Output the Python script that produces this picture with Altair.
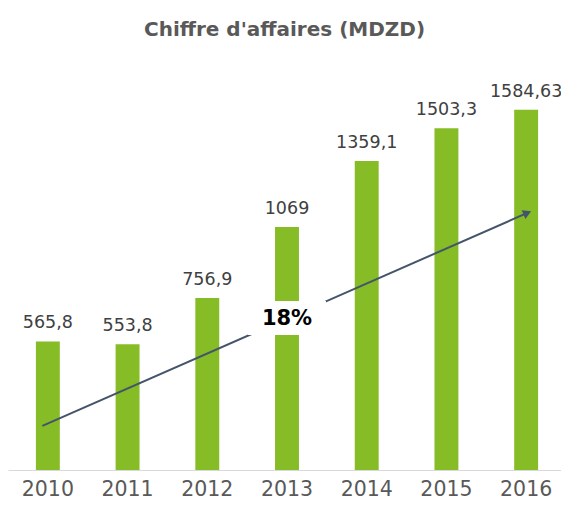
import altair as alt
import pandas as pd

years = ["2010", "2011", "2012", "2013", "2014", "2015", "2016"]
values = [565.8, 553.8, 756.9, 1069, 1359.1, 1503.3, 1584.63]
labels = ["565,8", "553,8", "756,9", "1069", "1359,1", "1503,3", "1584,63"]

# trend arrow: position in bar-index units (0 = 2010 ... 6 = 2016) and value
arrow_x = [-0.125, 6.07]
arrow_v = [194, 1131]
growth_label = "18%"
growth_label_x, growth_label_value = 3, 665   # bar index of 2013
growth_box_low, growth_box_high = 594, 744

GREEN = "#86BC25"
ARROW = "#44546A"
FONT = "DejaVu Sans"
XRANGE = [0, 558]

df = pd.DataFrame({"year": years, "value": values, "label": labels})
arrow_df = pd.DataFrame({"x0": [arrow_x[0]], "v0": [arrow_v[0]],
                         "x1": [arrow_x[1]], "v1": [arrow_v[1]]})
lab_df = pd.DataFrame({"x": [growth_label_x], "value": [growth_label_value],
                       "lo": [growth_box_low], "hi": [growth_box_high], "text": [growth_label]})

xscale = alt.Scale(domain=years, paddingInner=0.70, paddingOuter=0.35, range=XRANGE)
yscale = alt.Scale(domain=[0, 1760], nice=False, zero=True)
qscale = alt.Scale(domain=[-0.5, 6.5], range=XRANGE, nice=False, zero=False)

bars = alt.Chart(df).mark_bar(color=GREEN).encode(
    x=alt.X("year:N", scale=xscale, sort=years,
            axis=alt.Axis(title=None, labelAngle=0, ticks=False, labelFontSize=20.5,
                          labelColor="#595959", labelFont=FONT, labelPadding=9,
                          domainColor="#D9D9D9", domainWidth=1)),
    y=alt.Y("value:Q", scale=yscale, axis=None),
)
texts = alt.Chart(df).mark_text(dy=-9, baseline="bottom", fontSize=17.5, font=FONT,
                                color="#404040").encode(
    x=alt.X("year:N", scale=xscale, sort=years),
    y=alt.Y("value:Q", scale=yscale),
    text="label:N",
)

rule = alt.Chart(arrow_df).mark_rule(color=ARROW, strokeWidth=2).encode(
    x=alt.X("x0:Q", scale=qscale, axis=None),
    x2="x1:Q",
    y=alt.Y("v0:Q", scale=yscale),
    y2="v1:Q",
)
head = alt.Chart(arrow_df).mark_point(shape="triangle-up", filled=True, opacity=1,
                                      color=ARROW, size=90, angle=66.8).encode(
    x=alt.X("x1:Q", scale=qscale, axis=None),
    y=alt.Y("v1:Q", scale=yscale),
)
box = alt.Chart(lab_df).mark_bar(color="white", width=78).encode(
    x=alt.X("x:Q", scale=qscale, axis=None),
    y=alt.Y("lo:Q", scale=yscale),
    y2="hi:Q",
)
gtext = alt.Chart(lab_df).mark_text(fontSize=21, fontWeight="bold", font=FONT, color="black",
                                    baseline="middle").encode(
    x=alt.X("x:Q", scale=qscale, axis=None),
    y=alt.Y("value:Q", scale=yscale),
    text="text:N",
)

main_layer = alt.layer(bars, texts)
overlay = alt.layer(rule, head, box, gtext)

chart = alt.layer(main_layer, overlay).resolve_scale(x="independent").properties(
    width=553, height=400,
    autosize=alt.AutoSizeParams(type="none"),
    padding={"left": 0, "top": 62, "right": 0, "bottom": 32},
    title=alt.TitleParams("Chiffre d'affaires (MDZD)", fontSize=20, fontWeight="bold",
                          color="#595959", font=FONT, anchor="middle", offset=30),
).configure_view(stroke=None)

chart.save("out.html", embed_options={"renderer": "svg", "actions": False})
